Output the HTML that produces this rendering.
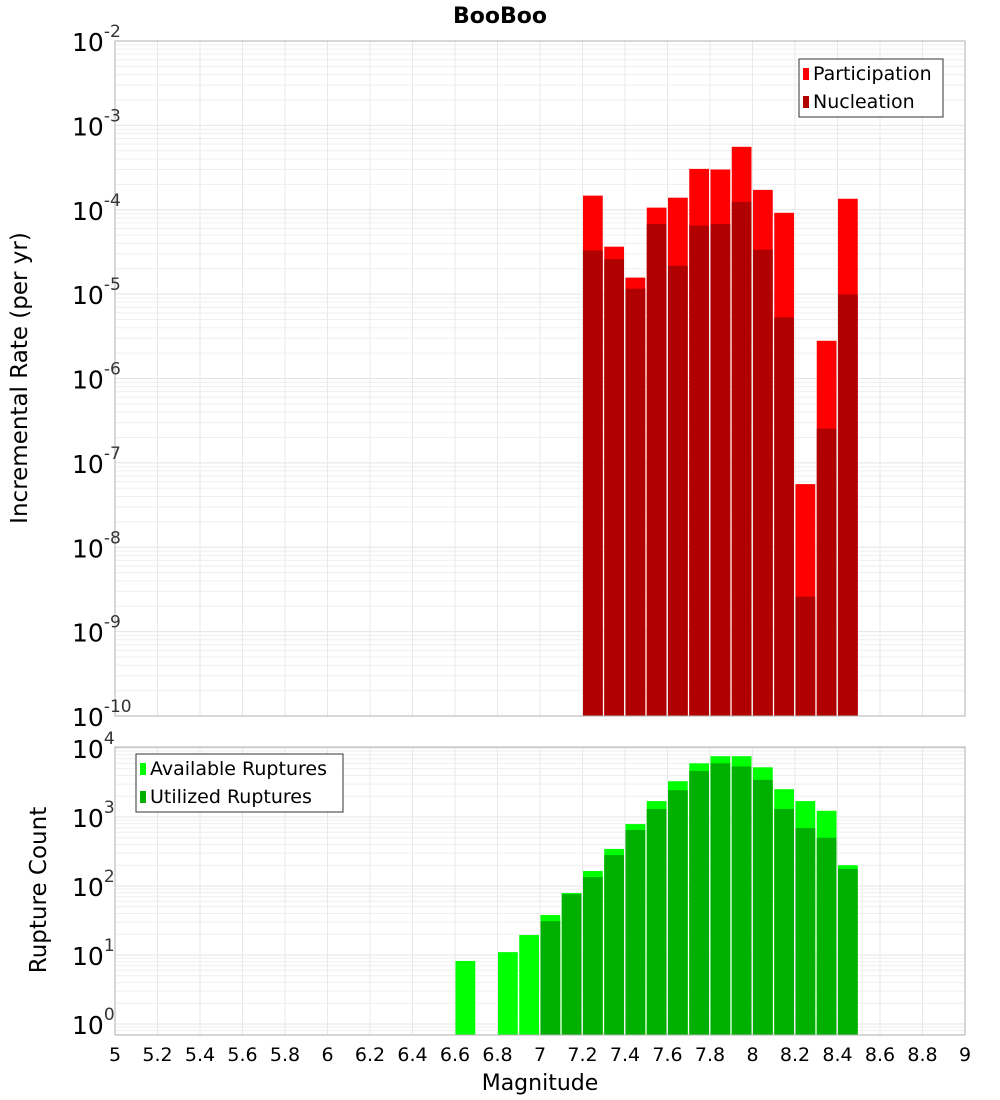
<!DOCTYPE html>
<html><head><meta charset="utf-8"><style>
body{margin:0;background:#fff;}
svg{display:block;font-family:"DejaVu Sans","Liberation Sans",sans-serif;}
</style></head><body>
<svg id="c" width="1000" height="1100"></svg>
<script>
const mags = [6.6,6.7,6.8,6.9,7.0,7.1,7.2,7.3,7.4,7.5,7.6,7.7,7.8,7.9,8.0,8.1,8.2,8.3,8.4];
const participation = [0,0,0,0,0,0,1.47e-4,3.65e-5,1.57e-5,1.06e-4,1.39e-4,3.05e-4,3.0e-4,5.57e-4,1.72e-4,9.2e-5,5.6e-8,2.8e-6,1.35e-4];
const nucleation = [0,0,0,0,0,0,3.3e-5,2.6e-5,1.16e-5,6.8e-5,2.17e-5,6.5e-5,6.8e-5,1.24e-4,3.36e-5,5.3e-6,2.6e-9,2.55e-7,9.9e-6];
const available = [8.2,0,11,19.5,38,79,165,345,790,1700,3300,6000,7600,7600,5250,2530,1700,1230,200];
const utilized = [0,0,0,0,31,76,135,280,650,1310,2450,4650,6000,5400,3450,1310,690,500,177];
const xTicks = ["5","5.2","5.4","5.6","5.8","6","6.2","6.4","6.6","6.8","7","7.2","7.4","7.6","7.8","8","8.2","8.4","8.6","8.8","9"];
const topExp = [-2,-3,-4,-5,-6,-7,-8,-9,-10];
const botExp = [4,3,2,1,0];

const NS="http://www.w3.org/2000/svg", svg=document.getElementById('c');
function el(t,a,p){const e=document.createElementNS(NS,t);for(const k in a)e.setAttribute(k,a[k]);(p||svg).appendChild(e);return e;}
const X0=115,X1=965;
const xs=m=>X0+(m-5)/4*(X1-X0);
const T0=41,T1=716; const yT=v=>T0+(-2-Math.log10(v))/8*(T1-T0);
const B0=747,B1=1035; const BD=69; const yB=v=>1024-Math.log10(v)*BD;

function grid(y0,y1,minE,maxE,yf){
  for(let e=minE;e<maxE;e++)for(let k=1;k<10;k++){const y=yf(k*Math.pow(10,e));if(y<y0||y>y1)continue;
    const l=el('line',{x1:X0,x2:X1,y1:y,y2:y,stroke:k==1?'#e4e4e4':'#efefef','stroke-width':1});
    }
  for(let i=1;i<20;i++){const x=xs(5+i*0.2);const l=el('line',{x1:x,x2:x,y1:y0,y2:y1,stroke:'#e8e8e8'});
    }
}
grid(T0,T1,-10,-2,yT); grid(B0,B1,-1,5,yB);

mags.forEach((m,i)=>{
  const x=xs(m)+0.5,w=xs(m+0.1)-xs(m)-1.5;
  if(participation[i]>0){const r=el('rect',{x:x,y:yT(participation[i]),width:w,height:T1-yT(participation[i]),fill:'#ff0000'});
    }
  if(nucleation[i]>0){const r=el('rect',{x:x,y:yT(nucleation[i]),width:w,height:T1-yT(nucleation[i]),fill:'#b00000'});
    }
  if(available[i]>0){const r=el('rect',{x:x,y:yB(available[i]),width:w,height:B1-yB(available[i]),fill:'#00ff00'});
    }
  if(utilized[i]>0){const r=el('rect',{x:x,y:yB(utilized[i]),width:w,height:B1-yB(utilized[i]),fill:'#00b000'});
    }
});
let f=el('rect',{x:X0,y:T0,width:X1-X0,height:T1-T0,fill:'none',stroke:'#b0b0b0'});

f=el('rect',{x:X0,y:B0,width:X1-X0,height:B1-B0,fill:'none',stroke:'#b0b0b0'});


function ylab(y,e,name){const t=el('text',{x:72,y:y+10,'font-size':25,fill:'#000'});t.textContent='10';
  const s=el('tspan',{dy:-14,'font-size':17,fill:'#333'},t);s.textContent=String(e);
  }
topExp.forEach(e=>ylab(yT(Math.pow(10,e)),e,'top-y-tick-label'));
botExp.forEach(e=>ylab(yB(Math.pow(10,e)),e,'bottom-y-tick-label'));
xTicks.forEach(s=>{const t=el('text',{x:xs(+s),y:1061,'font-size':19,'text-anchor':'middle'});t.textContent=s;
  });

let t=el('text',{x:500,y:23,'font-size':22,'font-weight':'bold','text-anchor':'middle'});t.textContent='BooBoo';

t=el('text',{x:540,y:1090,'font-size':22,'text-anchor':'middle'});t.textContent='Magnitude';

t=el('text',{x:0,y:0,'font-size':23,'text-anchor':'middle',transform:'translate(27,378) rotate(-90)'});t.textContent='Incremental Rate (per yr)';

t=el('text',{x:0,y:0,'font-size':23,'text-anchor':'middle',transform:'translate(46,890) rotate(-90)'});t.textContent='Rupture Count';


function legend(x,y,w,items,name){const g=el('g',{});
  el('rect',{x:x,y:y,width:w,height:58,fill:'#fff',stroke:'#333'},g);
  items.forEach((it,i)=>{el('rect',{x:x+4,y:y+9+i*28,width:6,height:12,fill:it[1]},g);
    const tt=el('text',{x:x+14,y:y+21+i*28,'font-size':19},g);tt.textContent=it[0];});}
legend(799,59,144,[['Participation','#ff0000'],['Nucleation','#b00000']],'top-legend');
legend(136,754,207,[['Available Ruptures','#00ff00'],['Utilized Ruptures','#00b000']],'bottom-legend');
</script>
</body></html>
